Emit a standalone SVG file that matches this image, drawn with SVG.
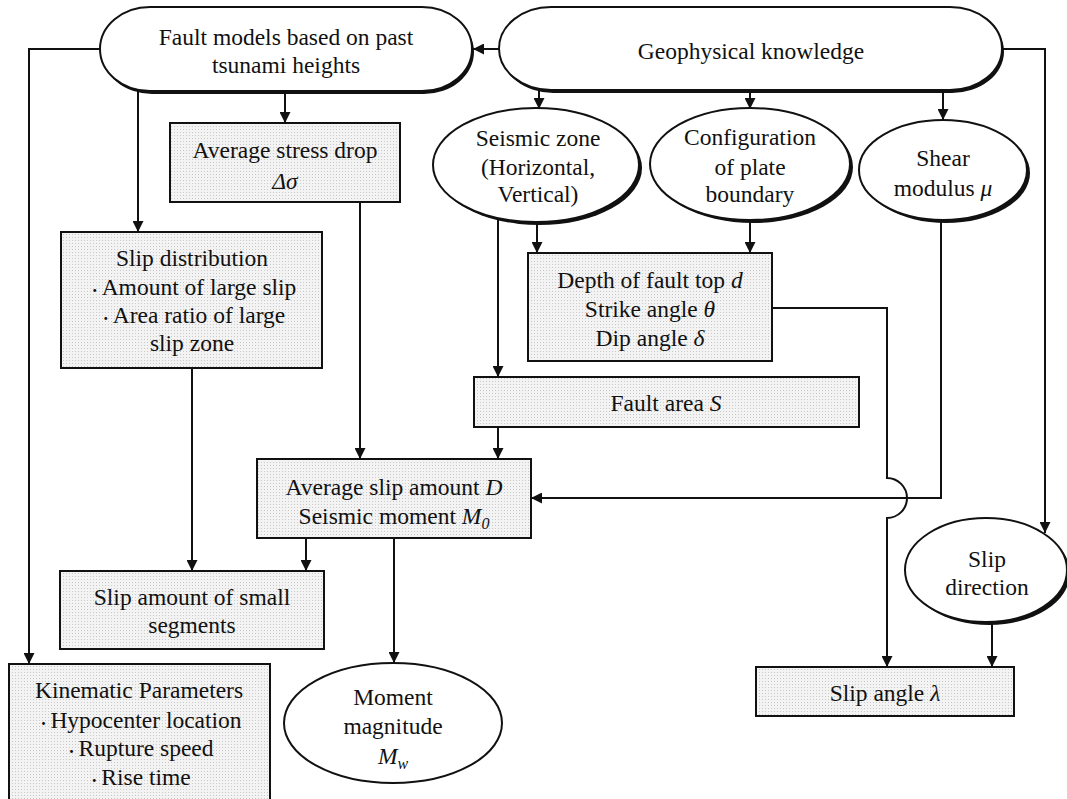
<svg xmlns="http://www.w3.org/2000/svg" width="1067" height="799" viewBox="0 0 1067 799">
<style>
text{font-family:"Liberation Serif","Times New Roman","Noto Sans CJK JP",serif;font-size:23.5px;fill:#111;text-anchor:middle}
.i{font-style:italic}
.dt{font-size:14px}
.box{fill:url(#dots);stroke:#111;stroke-width:2}
.sh{fill:#111;stroke:none}
.nd{fill:#fff;stroke:#111;stroke-width:2}
.c{fill:none;stroke:#111;stroke-width:2;marker-end:url(#arr)}
</style>
<defs>
<pattern id="dots" width="3" height="3" patternUnits="userSpaceOnUse">
<rect width="3" height="3" fill="#f3f3f3"/>
<rect width="1" height="1" fill="#c9c9c9"/>
</pattern>
<marker id="arr" viewBox="0 0 10 10" refX="10" refY="5" markerWidth="11" markerHeight="11" markerUnits="userSpaceOnUse" orient="auto">
<path d="M0,0 L10,5 L0,10 z" fill="#111"/>
</marker>
</defs>
<rect width="1067" height="799" fill="#fff"/>

<g id="connectors">
<path class="c" d="M499,49 H473"/>
<path class="c" d="M100,49 H29 V664"/>
<path class="c" d="M138,91 V232"/>
<path class="c" d="M285,91 V123"/>
<path class="c" d="M360,202 V459"/>
<path class="c" d="M192,368 V571"/>
<path class="c" d="M539,90 V109"/>
<path class="c" d="M750,90 V109"/>
<path class="c" d="M943,90 V120"/>
<path class="c" d="M1002,49 H1045 V533"/>
<path class="c" d="M498,216 V377"/>
<path class="c" d="M537,222 V253"/>
<path class="c" d="M750,220 V253"/>
<path class="c" d="M772,308 H887 V478 A20,20 0 0 1 887,518 V667"/>
<path class="c" d="M941,221 V498 H531"/>
<path class="c" d="M498,427 V459"/>
<path class="c" d="M306,538 V571"/>
<path class="c" d="M394,538 V663"/>
<path class="c" d="M992,623 V667"/>
</g>

<g id="fault-models">
<rect class="sh" x="102" y="10" width="372" height="84" rx="50" ry="42"/>
<rect class="nd" x="100" y="7" width="372" height="84" rx="50" ry="42"/>
<text x="286" y="45">Fault models based on past</text>
<text x="286" y="73">tsunami heights</text>
</g>

<g id="geophysical">
<rect class="sh" x="501" y="10" width="503" height="83" rx="52" ry="42"/>
<rect class="nd" x="499" y="7" width="503" height="83" rx="52" ry="42"/>
<text x="751" y="59">Geophysical knowledge</text>
</g>

<g id="stress-drop">
<rect class="box" x="170" y="123" width="230" height="79"/>
<text x="285" y="158">Average stress drop</text>
<text x="285" y="189" class="i">Δσ</text>
</g>

<g id="seismic-zone">
<ellipse class="sh" cx="539" cy="168" rx="103" ry="57"/>
<ellipse class="nd" cx="536" cy="165" rx="103" ry="57"/>
<text x="538" y="146">Seismic zone</text>
<text x="538" y="175">(Horizontal,</text>
<text x="538" y="202">Vertical)</text>
</g>

<g id="configuration">
<ellipse class="sh" cx="753" cy="167" rx="100" ry="56"/>
<ellipse class="nd" cx="750" cy="164" rx="100" ry="56"/>
<text x="750" y="145">Configuration</text>
<text x="750" y="175">of plate</text>
<text x="750" y="202">boundary</text>
</g>

<g id="shear-modulus">
<ellipse class="sh" cx="946" cy="173" rx="84" ry="50"/>
<ellipse class="nd" cx="943" cy="170" rx="84" ry="50"/>
<text x="943" y="166">Shear</text>
<text x="943" y="196">modulus <tspan class="i">μ</tspan></text>
</g>

<g id="slip-distribution">
<rect class="box" x="61" y="232" width="261" height="136"/>
<text x="192" y="266">Slip distribution</text>
<text x="192" y="295"><tspan class="dt">・</tspan>Amount of large slip</text>
<text x="192" y="323"><tspan class="dt">・</tspan>Area ratio of large</text>
<text x="192" y="351">slip zone</text>
</g>

<g id="fault-geometry">
<rect class="box" x="528" y="253" width="244" height="108"/>
<text x="650" y="288">Depth of fault top <tspan class="i">d</tspan></text>
<text x="650" y="317">Strike angle <tspan class="i">θ</tspan></text>
<text x="650" y="346">Dip angle <tspan class="i">δ</tspan></text>
</g>

<g id="fault-area">
<rect class="box" x="474" y="377" width="385" height="50"/>
<text x="666" y="411">Fault area <tspan class="i">S</tspan></text>
</g>

<g id="average-slip">
<rect class="box" x="257" y="459" width="274" height="79"/>
<text x="394" y="495">Average slip amount <tspan class="i">D</tspan></text>
<text x="394" y="524">Seismic moment <tspan class="i">M</tspan><tspan class="i" font-size="16" dy="5">0</tspan></text>
</g>

<g id="slip-direction">
<ellipse class="sh" cx="989" cy="573" rx="81" ry="52"/>
<ellipse class="nd" cx="986" cy="570" rx="81" ry="52"/>
<text x="987" y="567">Slip</text>
<text x="987" y="595">direction</text>
</g>

<g id="small-segments">
<rect class="box" x="60" y="571" width="264" height="78"/>
<text x="192" y="605">Slip amount of small</text>
<text x="192" y="633">segments</text>
</g>

<g id="kinematic">
<rect class="box" x="9" y="664" width="261" height="150"/>
<text x="139" y="698">Kinematic Parameters</text>
<text x="139" y="728"><tspan class="dt">・</tspan>Hypocenter location</text>
<text x="139" y="756"><tspan class="dt">・</tspan>Rupture speed</text>
<text x="139" y="785"><tspan class="dt">・</tspan>Rise time</text>
</g>

<g id="moment-magnitude">
<ellipse class="nd" cx="393" cy="723" rx="109" ry="60"/>
<text x="393" y="705">Moment</text>
<text x="393" y="734">magnitude</text>
<text x="393" y="764"><tspan class="i">M</tspan><tspan class="i" font-size="16" dy="5">w</tspan></text>
</g>

<g id="slip-angle">
<rect class="box" x="756" y="667" width="258" height="49"/>
<text x="885" y="701">Slip angle <tspan class="i">λ</tspan></text>
</g>
</svg>
